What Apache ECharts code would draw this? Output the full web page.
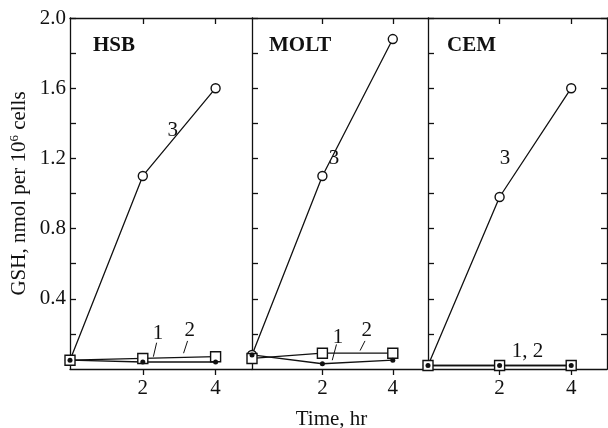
<!DOCTYPE html>
<html>
<head>
<meta charset="utf-8">
<script src="https://cdn.jsdelivr.net/npm/echarts@6/dist/echarts.min.js"></script>
<style>
  html, body { margin: 0; padding: 0; background: #fff; }
  #main { width: 608px; height: 428px; }
</style>
</head>
<body>
<div id="main"></div>
<script>
// time points, hr
const times = [0, 2, 4];
// GSH, nmol per 10^6 cells  (1 = filled dot, 2 = open square, 3 = open circle)
const hsb1 = [0.05, 0.04, 0.04];
const hsb2 = [0.05, 0.06, 0.07];
const hsb3 = [0.05, 1.1, 1.6];
const molt1 = [0.08, 0.03, 0.05];
const molt2 = [0.06, 0.09, 0.09];
const molt3 = [0.08, 1.1, 1.88];
const cem1 = [0.02, 0.02, 0.02];
const cem2 = [0.02, 0.02, 0.02];
const cem3 = [0.02, 0.98, 1.6];
const panelNames = ['HSB', 'MOLT', 'CEM'];
const xTickLabels = [2, 4];
const yTickLabels = [0.4, 0.8, 1.2, 1.6, 2.0];
const yMinorTicks = [0.2, 0.4, 0.6, 0.8, 1.0, 1.2, 1.4, 1.6, 1.8, 2.0];

// curve labels and their little arrows, in data coords
const curveNotes = [
  [[2.82, 1.36, '3'], [2.42, 0.2, '1'], [3.29, 0.22, '2']],
  [[2.33, 1.2, '3'], [2.44, 0.18, '1'], [3.26, 0.22, '2']],
  [[2.15, 1.2, '3'], [2.78, 0.1, '1, 2']]
];
const curveArrows = [
  [[[2.38, 0.15], [2.29, 0.07]], [[3.23, 0.16], [3.12, 0.09]]],
  [[[2.4, 0.14], [2.28, 0.05]], [[3.21, 0.16], [3.07, 0.105]]],
  []
];

const font = 'Liberation Serif';
const ink = '#111';
const grids = [
  { left: 70, top: 18, width: 182, height: 351, outerBoundsMode: 'none', containLabel: false },
  { left: 252, top: 18, width: 176, height: 351, outerBoundsMode: 'none', containLabel: false },
  { left: 428, top: 18, width: 179, height: 351, outerBoundsMode: 'none', containLabel: false }
];

function toPairs(v) { return times.map((t, i) => [t, v[i]]); }

const xAxis = [];
const yAxis = [];
grids.forEach((g, i) => {
  xAxis.push({
    type: 'value', gridIndex: i, min: 0, max: 5, position: 'bottom',
    axisLine: { onZero: false, lineStyle: { color: ink, width: 1.3 } },
    axisTick: { inside: false, length: 6, customValues: xTickLabels, lineStyle: { color: ink, width: 1.3 } },
    axisLabel: { customValues: xTickLabels, color: ink, fontFamily: font, fontSize: 21, margin: 9 },
    splitLine: { show: false },
    name: i === 1 ? 'Time, hr' : '',
    nameLocation: 'middle', nameGap: 40,
    nameTextStyle: { color: ink, fontFamily: font, fontSize: 21, padding: [0, 17, 0, 0] }
  });
});
grids.forEach((g, i) => {
  xAxis.push({
    type: 'value', gridIndex: i, min: 0, max: 5, position: 'top',
    axisLine: { onZero: false, lineStyle: { color: ink, width: 1.3 } },
    axisTick: { inside: true, length: 6, customValues: xTickLabels, lineStyle: { color: ink, width: 1.3 } },
    axisLabel: { show: false },
    splitLine: { show: false }
  });
});
grids.forEach((g, i) => {
  yAxis.push({
    type: 'value', gridIndex: i, min: 0, max: 2, position: 'left',
    axisLine: { show: true, onZero: false, lineStyle: { color: ink, width: 1.3 } },
    axisTick: { show: true, inside: true, length: 6, customValues: yMinorTicks, lineStyle: { color: ink, width: 1.3 } },
    axisLabel: {
      show: i === 0, customValues: yTickLabels, color: ink, fontFamily: font, fontSize: 21, margin: 4,
      formatter: v => v.toFixed(1)
    },
    splitLine: { show: false },
    name: i === 0 ? '{a|GSH, nmol per 10}{s|6}{a| cells}' : '',
    nameLocation: 'middle', nameRotate: 90, nameGap: 40,
    nameTextStyle: {
      rich: {
        a: { color: ink, fontFamily: font, fontSize: 21 },
        s: { color: ink, fontFamily: font, fontSize: 13, padding: [0, 0, 9, 0] }
      }
    }
  });
});
yAxis.push({
  type: 'value', gridIndex: 2, min: 0, max: 2, position: 'right',
  axisLine: { show: true, onZero: false, lineStyle: { color: ink, width: 1.3 } },
  axisTick: { show: true, inside: true, length: 6, customValues: yMinorTicks, lineStyle: { color: ink, width: 1.3 } },
  axisLabel: { show: false },
  splitLine: { show: false }
});

const panelData = [
  [hsb1, hsb2, hsb3],
  [molt1, molt2, molt3],
  [cem1, cem2, cem3]
];

const series = [];
panelData.forEach((d, i) => {
  const base = { type: 'line', xAxisIndex: i, yAxisIndex: i, silent: true, animation: false,
    lineStyle: { color: ink, width: 1.3 } };
  series.push(Object.assign({}, base, {
    name: '3', data: toPairs(d[2]), symbol: 'circle', symbolSize: 9,
    itemStyle: { color: '#fff', borderColor: ink, borderWidth: 1.4 },
    markPoint: {
      silent: true, animation: false, symbol: 'circle', symbolSize: 1,
      itemStyle: { color: 'transparent' },
      label: { show: true, position: 'inside', formatter: p => p.name, color: ink, fontFamily: font, fontSize: 21 },
      data: curveNotes[i].map(n => ({ coord: [n[0], n[1]], name: n[2] }))
    },
    markLine: {
      silent: true, animation: false, symbol: ['none', 'arrow'], symbolSize: [0, 5],
      lineStyle: { color: ink, width: 1, type: 'solid' }, label: { show: false },
      data: curveArrows[i].map(a => [{ coord: a[0] }, { coord: a[1] }])
    }
  }));
  series.push(Object.assign({}, base, {
    name: '2', data: toPairs(d[1]), symbol: 'rect', symbolSize: 10,
    itemStyle: { color: '#fff', borderColor: ink, borderWidth: 1.4 }
  }));
  series.push(Object.assign({}, base, {
    name: '1', data: toPairs(d[0]), symbol: 'circle', symbolSize: 5,
    itemStyle: { color: ink, borderColor: ink, borderWidth: 0 }
  }));
});

const chart = echarts.init(document.getElementById('main'));
chart.setOption({
  animation: false,
  backgroundColor: '#fff',
  title: panelNames.map((n, i) => ({
    text: n, left: grids[i].left + [18, 12, 14][i], top: 30,
    textStyle: { color: ink, fontFamily: font, fontSize: 21, fontWeight: 'bold' }
  })),
  grid: grids,
  xAxis: xAxis,
  yAxis: yAxis,
  series: series
});
</script>
</body>
</html>
